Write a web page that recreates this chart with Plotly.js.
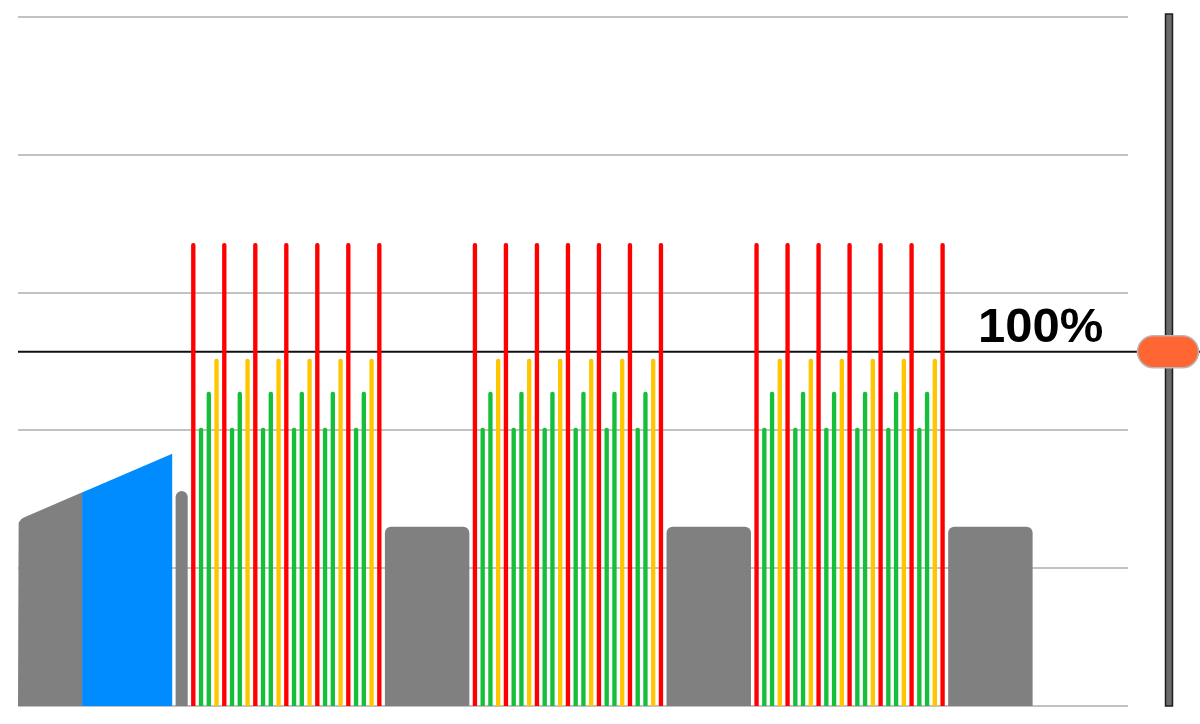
<!DOCTYPE html>
<html>
<head>
<meta charset="utf-8">
<script src="https://cdn.plot.ly/plotly-3.0.1.min.js"></script>
<style>
  html, body { margin: 0; padding: 0; background: #ffffff; }
  #chart { width: 1200px; height: 724px; }
</style>
</head>
<body>
<div id="chart"></div>
<script>
// ---------------- DATA ----------------
const FTP = 257;                       // watts at the 100% line

// warm-up ramp (seconds / watts)
const warmupDuration = 305;
const warmupStartWatts = 135;
const warmupEndWatts = 183;
const highlightFrom = 124;             // start of the highlighted (blue) part of the ramp

// steady steps after the warm-up: duration (s) and target (W)
const stepDurations = [
  30,
  15,15,15,15, 15,15,15,15, 15,15,15,15, 15,15,15,15, 15,15,15,15, 15,15,15,15, 15,
  170,
  15,15,15,15, 15,15,15,15, 15,15,15,15, 15,15,15,15, 15,15,15,15, 15,15,15,15, 15,
  170,
  15,15,15,15, 15,15,15,15, 15,15,15,15, 15,15,15,15, 15,15,15,15, 15,15,15,15, 15,
  170
];
const stepWatts = [
  156,
  336,202,228,252, 336,202,228,252, 336,202,228,252, 336,202,228,252, 336,202,228,252, 336,202,228,252, 336,
  130,
  336,202,228,252, 336,202,228,252, 336,202,228,252, 336,202,228,252, 336,202,228,252, 336,202,228,252, 336,
  130,
  336,202,228,252, 336,202,228,252, 336,202,228,252, 336,202,228,252, 336,202,228,252, 336,202,228,252, 336,
  130
];
const ftpLabel = "100%";
const yTickValues = [0, 100, 200, 300, 400, 500];
const xAxisEnd = 2148;

// ---------------- STYLE / LAYOUT ----------------
const W = 1200, H = 724;
const M = { l: 18, r: 72, t: 12, b: 18 };
const plotW = W - M.l - M.r, plotH = H - M.t - M.b;
const Y_TOP = 503.6;                              // a little head-room so the 500 W gridline shows
const pxX = (px) => (px - M.l) / plotW;          // pixel -> paper x
const pxY = (py) => (H - M.b - py) / plotH;      // pixel -> paper y
const secPerPx = xAxisEnd / plotW;
const wattPerPx = Y_TOP / plotH;
const BAR_GAP = 3.4 * secPerPx;                  // white gap after each step

const COLORS = {
  grey: '#808080', green: '#16bf3a', yellow: '#ffc600', red: '#ff0000', blue: '#008cff'
};
function zone(w) {
  const p = w / FTP;
  if (p >= 1.05) return 'red';
  if (p >= 0.95) return 'yellow';
  if (p >= 0.75) return 'green';
  return 'grey';
}

// ---------------- TRACES ----------------
const traces = [];

// warm-up ramp polygons
const rampEndT = warmupDuration - BAR_GAP;
const rampAt = (t) => warmupStartWatts + (warmupEndWatts - warmupStartWatts) * t / rampEndT;
{
  // rounded top-left corner
  const rx = 7 * secPerPx, ry = 7 * wattPerPx;
  const gx = [0], gy = [0];
  const p0 = [0, warmupStartWatts - ry], c = [0, warmupStartWatts], p1 = [rx, rampAt(rx)];
  for (let i = 0; i <= 10; i++) {
    const s = i / 10;
    gx.push((1-s)*(1-s)*p0[0] + 2*(1-s)*s*c[0] + s*s*p1[0]);
    gy.push((1-s)*(1-s)*p0[1] + 2*(1-s)*s*c[1] + s*s*p1[1]);
  }
  gx.push(highlightFrom + 0.5, highlightFrom + 0.5, 0);
  gy.push(rampAt(highlightFrom + 0.5), 0, 0);
  traces.push({ type: 'scatter', mode: 'lines', x: gx, y: gy, fill: 'toself',
    fillcolor: COLORS.grey, line: { width: 0 }, hoverinfo: 'skip', showlegend: false });
  traces.push({ type: 'scatter', mode: 'lines',
    x: [highlightFrom, highlightFrom, rampEndT, rampEndT, highlightFrom],
    y: [0, rampAt(highlightFrom), rampAt(rampEndT), 0, 0], fill: 'toself',
    fillcolor: COLORS.blue, line: { width: 0 }, hoverinfo: 'skip', showlegend: false });
}

// steady steps as bars, one trace per zone colour
const groups = {};
let t = warmupDuration;
for (let i = 0; i < stepDurations.length; i++) {
  const z = zone(stepWatts[i]);
  if (!groups[z]) groups[z] = { x: [], y: [], w: [] };
  groups[z].x.push(t);
  groups[z].y.push(stepWatts[i]);
  groups[z].w.push(stepDurations[i] - BAR_GAP);
  t += stepDurations[i];
}
['grey', 'green', 'yellow', 'red'].forEach(z => {
  const g = groups[z];
  if (!g) return;
  traces.push({
    type: 'bar', x: g.x, y: g.y, width: g.w, offset: 0,
    marker: { color: COLORS[z], line: { width: 0 }, cornerradius: z === 'grey' ? 6 : 2.2 },
    hoverinfo: 'skip', showlegend: false
  });
});

// ---------------- LAYOUT ----------------
const pillCx = pxX(1168);
const pillPath = (() => {
  const hw = 30.5, hh = 16, r = 16, k = 0.5523 * r, s = hw - r;
  return `M ${-s} ${-hh} L ${s} ${-hh} C ${s + k} ${-hh} ${hw} ${-k} ${hw} 0 ` +
         `C ${hw} ${k} ${s + k} ${hh} ${s} ${hh} L ${-s} ${hh} ` +
         `C ${-s - k} ${hh} ${-hw} ${k} ${-hw} 0 C ${-hw} ${-k} ${-s - k} ${-hh} ${-s} ${-hh} Z`;
})();

const layout = {
  width: W, height: H,
  margin: M,
  paper_bgcolor: '#ffffff',
  plot_bgcolor: 'rgba(0,0,0,0)',
  barmode: 'overlay',
  showlegend: false,
  xaxis: { range: [0, xAxisEnd], showgrid: false, zeroline: false, showline: false,
           showticklabels: false, ticks: '', fixedrange: true },
  yaxis: { range: [0, Y_TOP], tickvals: yTickValues, showticklabels: false, ticks: '',
           showgrid: true, gridcolor: '#c2c2c2', gridwidth: 2,
           zeroline: true, zerolinecolor: '#c2c2c2', zerolinewidth: 2,
           showline: false, fixedrange: true },
  shapes: [
    { type: 'line', xref: 'paper', yref: 'y', x0: 0, x1: pxX(1200), y0: FTP, y1: FTP,
      line: { color: '#111111', width: 2 }, layer: 'below' },
    { type: 'rect', xref: 'paper', yref: 'paper', x0: pxX(1165.5), x1: pxX(1172.5),
      y0: pxY(706), y1: pxY(14), fillcolor: '#6a6a6a',
      line: { color: '#1e1e1e', width: 1.5 }, layer: 'above' },
    { type: 'path', xref: 'paper', yref: 'y', xsizemode: 'pixel', ysizemode: 'pixel',
      xanchor: pillCx, yanchor: FTP, path: pillPath, fillcolor: '#ff6633',
      line: { color: '#b8b8b8', width: 1.5 }, layer: 'above' }
  ],
  annotations: [
    { text: ftpLabel, xref: 'paper', yref: 'y', x: pxX(1105), y: FTP,
      xanchor: 'right', yanchor: 'middle', yshift: 27, showarrow: false,
      font: { family: 'Liberation Sans, Arial, sans-serif', size: 49, weight: 'bold', color: '#000000' } }
  ]
};

Plotly.newPlot('chart', traces, layout, { staticPlot: true, displayModeBar: false });
</script>
</body>
</html>
